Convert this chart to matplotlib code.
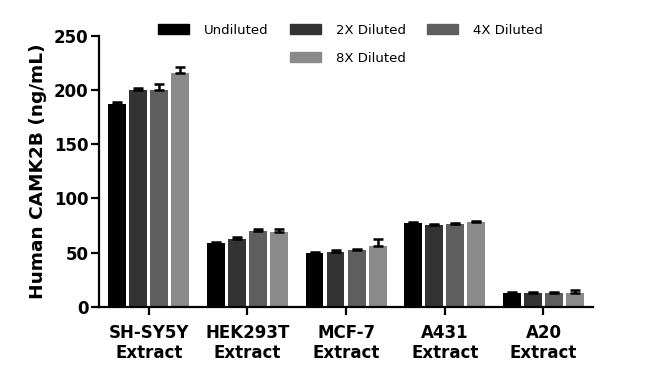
import numpy as np
import matplotlib.pyplot as plt
from matplotlib.patches import Patch

# ---- data ----
categories = ['SH-SY5Y\nExtract', 'HEK293T\nExtract', 'MCF-7\nExtract', 'A431\nExtract', 'A20\nExtract']
series_names = ['Undiluted', '2X Diluted', '4X Diluted', '8X Diluted']
undiluted = [187, 59, 50, 77, 13]
diluted_2x = [200, 63, 51, 75, 13]
diluted_4x = [200, 69.5, 52, 76.5, 13]
diluted_8x = [215, 69, 56, 78.5, 13]
err_undiluted = [2, 1, 1, 1, 1]
err_2x = [2, 1, 1, 1, 1]
err_4x = [5, 2, 1, 1, 1]
err_8x = [6, 3, 6.5, 1, 2.5]

values = [undiluted, diluted_2x, diluted_4x, diluted_8x]
errors = [err_undiluted, err_2x, err_4x, err_8x]
colors = ['#000000', '#333333', '#5e5e5e', '#8a8a8a']

fig = plt.figure(figsize=(6.5, 3.88), dpi=100)
ax = fig.add_axes([0.153, 0.209, 0.759, 0.6995])

x = np.arange(len(categories))
step = 0.213
width = 0.18
for i, (vals, errs) in enumerate(zip(values, errors)):
    pos = x + (i - 1.5) * step
    ax.bar(pos, vals, width=width, color=colors[i], zorder=2)
    ax.errorbar(pos, vals, yerr=[np.zeros(len(errs)), errs], fmt='none',
                ecolor='black', elinewidth=1.8, capsize=3.5, capthick=1.8, zorder=3)

ax.set_xlim(-0.5, 4.5)
ax.set_ylim(0, 250)
ax.set_yticks([0, 50, 100, 150, 200, 250])
ax.set_xticks(x)
ax.set_xticklabels(categories, fontsize=12, fontweight='bold', linespacing=1.2)
for lab in ax.get_yticklabels():
    lab.set_fontsize(12)
    lab.set_fontweight('bold')
ax.set_ylabel('Human CAMK2B (ng/mL)', fontsize=13.3, fontweight='bold', labelpad=5)

for s in ['top', 'right']:
    ax.spines[s].set_visible(False)
for s in ['left', 'bottom']:
    ax.spines[s].set_linewidth(1.6)
ax.tick_params(axis='y', width=1.6, length=6, pad=2)
ax.tick_params(axis='x', width=1.6, length=6, pad=6)

# legend: 3 columns, 8X sits under 2X
blank = Patch(color='none')
handles = [Patch(color=c) for c in colors]
order = [handles[0], blank, handles[1], handles[3], handles[2]]
labels = [series_names[0], '', series_names[1], series_names[3], series_names[2]]
fig.legend(order, labels, ncol=3, frameon=False, loc='upper left',
           bbox_to_anchor=(0.225, 0.97), fontsize=9.5, handlelength=2.35,
           handleheight=0.85, columnspacing=1.6, labelspacing=1.15, handletextpad=1.14)

fig.savefig('out.png', dpi=100)
